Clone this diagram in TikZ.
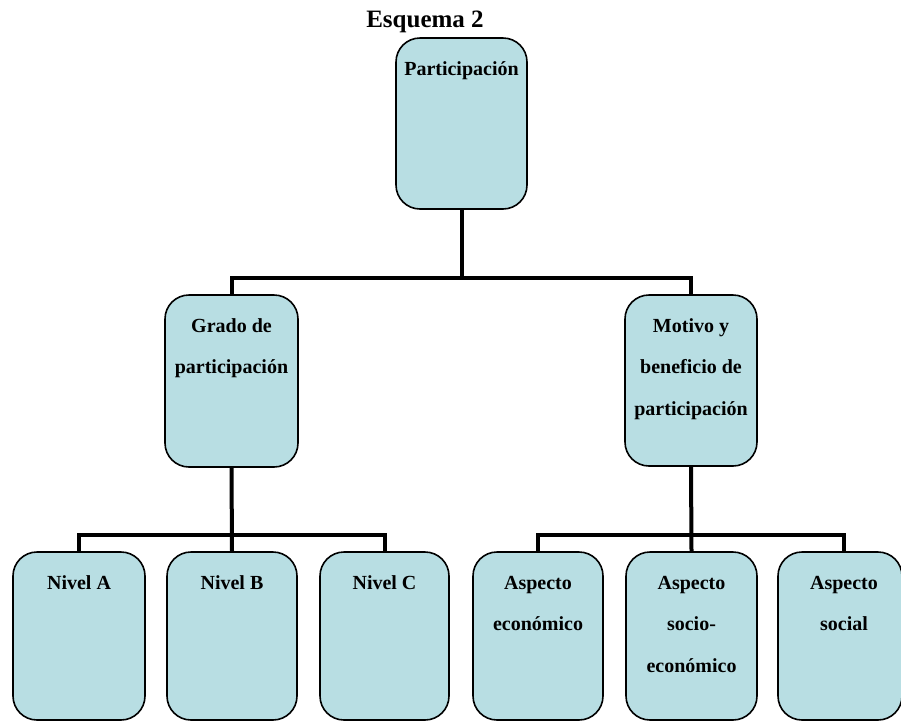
\documentclass[tikz,border=0pt]{standalone}
\usepackage{fontspec}
\setmainfont{Liberation Serif}
\usetikzlibrary{calc,backgrounds}
\definecolor{boxfill}{RGB}{184,222,227}
\newcommand\bxt[3]{\parbox[c][#1][t]{#2}{\centering\baselineskip=41.5pt\rule{0pt}{37pt}#3\par}}
\begin{document}
\begin{tikzpicture}[x=1pt,y=-1pt,
  box/.style={draw=black, line width=1.6pt, fill=boxfill, rounded corners=24pt,
    inner sep=0pt, font=\bfseries\fontsize{20}{24}\selectfont},
  conn/.style={draw=black, line width=4pt, line join=miter}]
\useasboundingbox (0,0) rectangle (901,721);
\node[font=\bfseries\fontsize{25}{30}\selectfont, anchor=base] (title) at (425,27) {Esquema 2};
\node[box] (top) at (461.5,123.5) {\bxt{171pt}{131pt}{Participación}};
\node[box] (grado) at (231.5,381) {\bxt{172pt}{133pt}{Grado de\\participación}};
\node[box] (motivo) at (691,380.5) {\bxt{171pt}{132pt}{Motivo y\\beneficio de\\participación}};
\node[box] (nA) at (79,636) {\bxt{168pt}{132pt}{Nivel A}};
\node[box] (nB) at (232,636) {\bxt{168pt}{130pt}{Nivel B}};
\node[box] (nC) at (384.5,636) {\bxt{168pt}{129pt}{Nivel C}};
\node[box] (aE) at (538,636) {\bxt{168pt}{130pt}{Aspecto\\económico}};
\node[box] (aS) at (691.5,636) {\bxt{168pt}{131pt}{Aspecto\\socio-\\económico}};
\node[box] (aSo) at (840,636) {\bxt{168pt}{124pt}{\hspace*{8pt}Aspecto\\\hspace*{8pt}social}};
\coordinate (j1) at (461.5,278);
\coordinate (j2) at (232,535);
\coordinate (j3) at (691,535);
\coordinate (aSoTop) at ($(aSo.north)+(4,0)$);
\begin{scope}[on background layer]
\draw[conn] (top.south) -- (j1);
\draw[conn] (grado.north) |- (j1) -| (motivo.north);
\draw[conn] (grado.south) -- (nB.north);
\draw[conn] (nA.north) |- (j2) -| (nC.north);
\draw[conn] (motivo.south) -- (aS.north);
\draw[conn] (aE.north) |- (j3) -| (aSoTop);
\end{scope}
\end{tikzpicture}
\end{document}
